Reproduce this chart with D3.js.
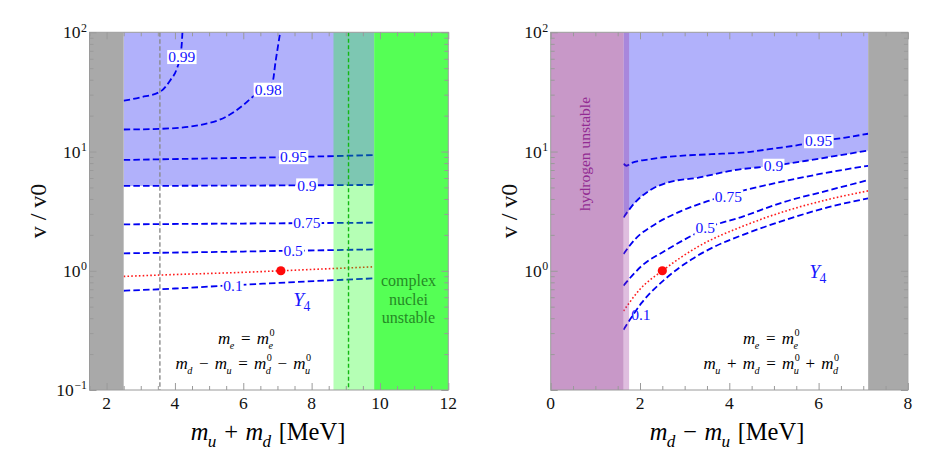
<!DOCTYPE html>
<html><head><meta charset="utf-8">
<script src="https://cdn.jsdelivr.net/npm/d3@7"></script>
<style>body{margin:0;background:#fff}svg{display:block}</style>
</head><body><svg id="c" width="934" height="465"></svg>
<script>
// ---------------- data ----------------
const yMajor = [0.1, 1, 10, 100];
const yExpLeft = ["−1", "0", "1", "2"];
const yExpRight = [null, "0", "1", "2"];
const leftXTicks = [2, 4, 6, 8, 10, 12];
const rightXTicks = [0, 2, 4, 6, 8];

// left panel: v/v0 vs m_u + m_d
const leftGrayBand = [1.5, 2.5];
const leftLightGreen = [8.64, 9.83];
const leftGreen = [9.83, 12];
const leftGrayLine = 3.56;
const leftGreenLine = 9.08;
const L099 = [[2.5,26.7],[3.0,28.5],[3.57,31.8],[3.86,39.5],[4.05,49],[4.15,62],[4.2,80],[4.22,100]];
const L098 = [[2.5,15.3],[3.57,15.5],[4.74,16.7],[5.5,19.6],[6.0,24.5],[6.29,29],[6.57,33],[6.85,37.6],[6.95,58],[7.08,100]];
const L095 = [[2.5,8.5],[5,8.75],[7.5,9.0],[9.83,9.35]];
const L090 = [[2.5,5.15],[5,5.17],[7.5,5.2],[9.83,5.25]];
const L075 = [[2.5,2.45],[6,2.49],[9.83,2.53]];
const L050 = [[2.5,1.40],[6,1.45],[9.83,1.51]];
const LRed = [[2.5,0.897],[4,0.93],[6,0.97],[7.1,1.0],[8.5,1.04],[9.83,1.08]];
const L010 = [[2.5,0.68],[4,0.71],[5.3,0.745],[7,0.79],[8.5,0.83],[9.83,0.863]];
const leftLabels = [["0.99",4.2,62],["0.98",6.73,33],["0.95",7.47,8.97],["0.9",7.86,5.2],["0.75",7.86,2.51],["0.5",7.46,1.47],["0.1",5.7,0.755]];
const leftPoint = [7.1, 1.0];

// right panel: v/v0 vs m_d - m_u
const rightPurple = [0, 1.63];
const rightStrip = [1.63, 1.755];
const rightGray = [7.11, 8];
const R095 = [[1.63,7.9],[1.7,7.6],[1.8,8.0],[2.2,8.6],[2.9,9.2],[3.6,9.5],[4.4,9.9],[5.0,10.6],[5.65,11.5],[6.0,12.2],[6.6,13.1],[7.11,14.1]];
const R090 = [[1.63,2.8],[1.89,3.74],[2.26,4.83],[2.63,5.5],[3.31,6.05],[4.13,7.0],[5.0,7.6],[6.0,8.7],[7.11,10.2]];
const R075 = [[1.63,1.38],[1.89,1.84],[2.34,2.46],[2.93,3.18],[3.53,3.85],[4.2,4.6],[5.0,5.4],[6.0,6.45],[7.11,7.6]];
const R050 = [[1.63,0.75],[2.04,1.1],[2.56,1.47],[3.08,1.9],[3.46,2.25],[4.3,2.85],[5.2,3.75],[6.2,4.7],[7.11,5.76]];
const RRed = [[1.63,0.46],[2.0,0.7],[2.5,1.0],[3.31,1.6],[4.35,2.4],[5.3,3.2],[6.2,3.95],[7.11,4.68]];
const R010 = [[1.63,0.32],[2.04,0.54],[2.56,0.85],[3.16,1.25],[3.68,1.6],[4.35,2.03],[5.3,2.7],[6.2,3.4],[7.11,4.05]];
const rightLabels = [["0.95",6.0,12.2,true],["0.9",4.99,7.6,true],["0.75",3.98,4.2,true],["0.5",3.46,2.28,true],["0.1",2.02,0.43,false]];
const rightPoint = [2.5, 1.0];

// ---------------- style ----------------
const SERIF = "'Liberation Serif','Times New Roman',serif";
const C_BLUEFILL = "#b1b1fb", C_GRAY = "#a9a9a9", C_LINE = "#0000f2", C_LABEL = "#1414ff";
const C_FRAME = "#9a9a9a";

const svg = d3.select("#c");
const defs = svg.append("defs");

// one <text> per formula; pieces are positioned tspans
function mathLabel(parent, tokens, o) {
  const size = o.size, fill = o.fill || "#000";
  const outer = parent.append("g").attr("transform", `translate(${o.x},${o.y}) rotate(${o.rotate||0})`);
  const parts = [];
  let cx = 0;
  const measure = (str, fs, it) => {
    const t = outer.append("text").attr("font-size", fs).attr("font-family", SERIF)
      .attr("font-style", it ? "italic" : "normal").text(str);
    const w = t.node().getComputedTextLength();
    t.remove();
    return w;
  };
  const put = (str, px, py, fs, it) => { parts.push({ str, px, py, fs, it }); return measure(str, fs, it); };
  const ss = o.scriptScale || 0.7, sr = o.supRaise || 0.42, sd = o.subDrop || 0.28, op = o.opPad || 0.3;
  tokens.forEach(tk => {
    if (tk.gap) { cx += tk.gap * size; return; }
    if (tk.op) { cx += op * size; cx += put(tk.op, cx, 0, size, false); cx += op * size; return; }
    if (tk.t) cx += put(tk.t, cx, 0, size, tk.it);
    let w = 0;
    if (tk.sub) w = Math.max(w, put(tk.sub, cx - (tk.it ? 0.03*size : 0), sd*size, ss*size, tk.subIt !== false));
    if (tk.sup) w = Math.max(w, put(tk.sup, cx + 0.03*size, -sr*size, ss*size, false));
    cx += w;
  });
  const shift = o.anchor === "end" ? -cx : o.anchor === "start" ? 0 : -cx/2;
  const text = outer.append("text").attr("font-family", SERIF).attr("fill", fill).attr("font-size", size);
  parts.forEach(p => {
    text.append("tspan").attr("x", p.px + shift).attr("y", p.py).attr("font-size", p.fs)
      .attr("font-style", p.it ? "italic" : "normal").text(p.str);
  });
}

function panel(P) {
  const { x, y, id } = P;
  const [x0, x1] = x.range(), [yb, yt] = y.range();
  defs.append("clipPath").attr("id", id).append("rect")
    .attr("x", x0).attr("y", yt).attr("width", x1 - x0).attr("height", yb - yt);
  const g = svg.append("g").attr("clip-path", `url(#${id})`);
  const line = d3.line().x(d => x(d[0])).y(d => y(d[1])).curve(d3.curveMonotoneX);
  const area = d3.area().x(d => x(d[0])).y0(y(100)).y1(d => y(d[1])).curve(d3.curveMonotoneX);
  return { g, line, area };
}

function bandRect(g, x, y, b, fill) {
  g.append("rect").attr("x", x(b[0])).attr("y", y(100))
    .attr("width", x(b[1]) - x(b[0])).attr("height", y(0.1) - y(100)).attr("fill", fill);
}
function contour(g, line, data) {
  g.append("path").attr("d", line(data)).attr("fill", "none").attr("stroke", C_LINE)
    .attr("stroke-width", 1.8).attr("stroke-dasharray", "6.5,3.2");
}
function redLine(g, line, data) {
  g.append("path").attr("d", line(data)).attr("fill", "none").attr("stroke", "#ff1a1a")
    .attr("stroke-width", 1.6).attr("stroke-dasharray", "1.6,2.2");
}
function labels(g, x, y, arr) {
  arr.forEach(([t, vx, vy, box]) => {
    const px = x(vx), py = y(vy);
    const tx = g.append("text").attr("x", px).attr("y", py + 5.2).attr("text-anchor", "middle")
      .attr("font-family", SERIF).attr("font-size", 15.5).attr("fill", C_LABEL).text(t);
    if (box !== false) {
      const bb = tx.node().getBBox();
      g.insert("rect", () => tx.node()).attr("x", bb.x - 1).attr("y", py - 7)
        .attr("width", bb.width + 2).attr("height", 14).attr("fill", "#fff");
    }
  });
}
function frame(x, y, xMajor, xStep, expLabels) {
  const [x0, x1] = x.range(), [yb, yt] = y.range();
  const fg = svg.append("g");
  const xd = x.domain();
  const xMinor = d3.range(Math.ceil(xd[0]/xStep)*xStep, xd[1] + 1e-9, xStep).filter(v => !xMajor.includes(v));
  const yMinor = [];
  [0.1, 1, 10].forEach(d => { for (let k = 2; k <= 9; k++) yMinor.push(k * d); });
  const addAxis = (axis, tr) => {
    const a = fg.append("g").attr("transform", tr).call(axis);
    a.select(".domain").remove();
    a.selectAll("line").attr("stroke", C_FRAME);
    a.selectAll("text").remove();
  };
  addAxis(d3.axisBottom(x).tickValues(xMajor).tickSize(-7), `translate(0,${yb})`);
  addAxis(d3.axisBottom(x).tickValues(xMinor).tickSize(-4), `translate(0,${yb})`);
  addAxis(d3.axisTop(x).tickValues(xMajor).tickSize(-7), `translate(0,${yt})`);
  addAxis(d3.axisTop(x).tickValues(xMinor).tickSize(-4), `translate(0,${yt})`);
  addAxis(d3.axisLeft(y).tickValues(yMajor).tickSize(-7), `translate(${x0},0)`);
  addAxis(d3.axisLeft(y).tickValues(yMinor).tickSize(-4), `translate(${x0},0)`);
  addAxis(d3.axisRight(y).tickValues(yMajor).tickSize(-7), `translate(${x1},0)`);
  addAxis(d3.axisRight(y).tickValues(yMinor).tickSize(-4), `translate(${x1},0)`);
  fg.append("rect").attr("x", x0).attr("y", yt).attr("width", x1 - x0).attr("height", yb - yt)
    .attr("fill", "none").attr("stroke", C_FRAME).attr("stroke-width", 1);
  xMajor.forEach(v => {
    fg.append("text").attr("x", x(v)).attr("y", yb + 18.5).attr("text-anchor", "middle")
      .attr("font-family", SERIF).attr("font-size", 17.5).attr("fill", "#111").text(v);
  });
  yMajor.forEach((v, i) => {
    if (!expLabels[i]) return;
    mathLabel(fg, [{ t: "10", sup: expLabels[i] }], { x: x0 - 3, y: y(v) + 6, size: 17.5, anchor: "end", fill: "#111", scriptScale: 0.68, supRaise: 0.38 });
  });
}

const F = { size: 17, opPad: 0.36, subDrop: 0.28, supRaise: 0.47, scriptScale: 0.6 };

// ---------------- left panel ----------------
const xL = d3.scaleLinear().domain([1.5, 12]).range([89.5, 448.3]);
const yL = d3.scaleLog().domain([0.1, 100]).range([390, 32.3]);
const PL = panel({ x: xL, y: yL, id: "clipL" });
{
  const g = PL.g;
  g.append("path").attr("d", PL.area(L090)).attr("fill", C_BLUEFILL);
  [L099, L098, L095, L090, L075, L050, L010].forEach(d => contour(g, PL.line, d));
  redLine(g, PL.line, LRed);
  g.append("line").attr("x1", xL(leftGrayLine)).attr("x2", xL(leftGrayLine))
    .attr("y1", yL(100)).attr("y2", yL(0.1)).attr("stroke", "#8a8a8a")
    .attr("stroke-width", 1.4).attr("stroke-dasharray", "4.5,2.5");
  labels(g, xL, yL, leftLabels);
  g.append("circle").attr("cx", xL(leftPoint[0])).attr("cy", yL(leftPoint[1])).attr("r", 4.6).attr("fill", "#ff0a0a");
  bandRect(g, xL, yL, leftLightGreen, "rgba(0,255,0,0.29)");
  g.append("line").attr("x1", xL(leftGreenLine)).attr("x2", xL(leftGreenLine))
    .attr("y1", yL(100)).attr("y2", yL(0.1)).attr("stroke", "#12b812")
    .attr("stroke-width", 1.4).attr("stroke-dasharray", "4,2.5");
  bandRect(g, xL, yL, leftGreen, "#55ff55");
  bandRect(g, xL, yL, leftGrayBand, C_GRAY);
  ["complex", "nuclei", "unstable"].forEach((t, i) => {
    g.append("text").attr("x", 408.5).attr("y", 286 + i * 18.5).attr("text-anchor", "middle")
      .attr("font-family", SERIF).attr("font-size", 16).attr("fill", "#258a25").text(t);
  });
  mathLabel(svg, [{ t: "Y", it: true, sub: "4", subIt: false }], { x: 302, y: 306, size: 19.5, fill: "#1a1aff", subDrop: 0.25 });
  mathLabel(svg, [{ t: "m", it: true, sub: "e" }, { op: "=" }, { t: "m", it: true, sub: "e", sup: "0" }], Object.assign({ x: 246, y: 344 }, F));
  mathLabel(svg, [{ t: "m", it: true, sub: "d" }, { op: "−" }, { t: "m", it: true, sub: "u" }, { op: "=" },
    { t: "m", it: true, sub: "d", sup: "0" }, { op: "−" }, { t: "m", it: true, sub: "u", sup: "0" }], Object.assign({ x: 243, y: 369 }, F));
}
frame(xL, yL, leftXTicks, 0.5, yExpLeft);
mathLabel(svg, [{ t: "m", it: true, sub: "u" }, { op: "+" }, { t: "m", it: true, sub: "d" }, { gap: 0.28 }, { t: "[MeV]" }], { x: 268, y: 440, size: 24.5, opPad: 0.3 });
svg.append("text").attr("transform", "translate(46,211) rotate(-90)").attr("text-anchor", "middle")
  .attr("font-family", SERIF).attr("font-size", 24).attr("fill", "#111").text("v / v0");

// ---------------- right panel ----------------
const xR = d3.scaleLinear().domain([0, 8]).range([550.7, 907.9]);
const yR = d3.scaleLog().domain([0.1, 100]).range([390, 32.3]);
const PR = panel({ x: xR, y: yR, id: "clipR" });
{
  const g = PR.g;
  g.append("path").attr("d", PR.area(R090)).attr("fill", C_BLUEFILL);
  [R095, R090, R075, R050, R010].forEach(d => contour(g, PR.line, d));
  redLine(g, PR.line, RRed);
  labels(g, xR, yR, rightLabels);
  g.append("circle").attr("cx", xR(rightPoint[0])).attr("cy", yR(rightPoint[1])).attr("r", 4.6).attr("fill", "#ff0a0a");
  bandRect(g, xR, yR, rightPurple, "#c898c8");
  bandRect(g, xR, yR, rightStrip, "rgba(150,40,150,0.3)");
  bandRect(g, xR, yR, rightGray, C_GRAY);
  g.append("text").attr("transform", "translate(590,154) rotate(-90)").attr("text-anchor", "middle")
    .attr("font-family", SERIF).attr("font-size", 15.5).attr("fill", "#922a92").text("hydrogen unstable");
  mathLabel(svg, [{ t: "Y", it: true, sub: "4", subIt: false }], { x: 818, y: 278, size: 19.5, fill: "#1a1aff", subDrop: 0.25 });
  mathLabel(svg, [{ t: "m", it: true, sub: "e" }, { op: "=" }, { t: "m", it: true, sub: "e", sup: "0" }], Object.assign({ x: 771, y: 344 }, F));
  mathLabel(svg, [{ t: "m", it: true, sub: "u" }, { op: "+" }, { t: "m", it: true, sub: "d" }, { op: "=" },
    { t: "m", it: true, sub: "u", sup: "0" }, { op: "+" }, { t: "m", it: true, sub: "d", sup: "0" }], Object.assign({ x: 771, y: 369 }, F));
}
frame(xR, yR, rightXTicks, 0.5, yExpRight);
mathLabel(svg, [{ t: "m", it: true, sub: "d" }, { op: "−" }, { t: "m", it: true, sub: "u" }, { gap: 0.28 }, { t: "[MeV]" }], { x: 727, y: 440, size: 24.5, opPad: 0.3 });
svg.append("text").attr("transform", "translate(517,211) rotate(-90)").attr("text-anchor", "middle")
  .attr("font-family", SERIF).attr("font-size", 24).attr("fill", "#111").text("v / v0");
</script></body></html>
